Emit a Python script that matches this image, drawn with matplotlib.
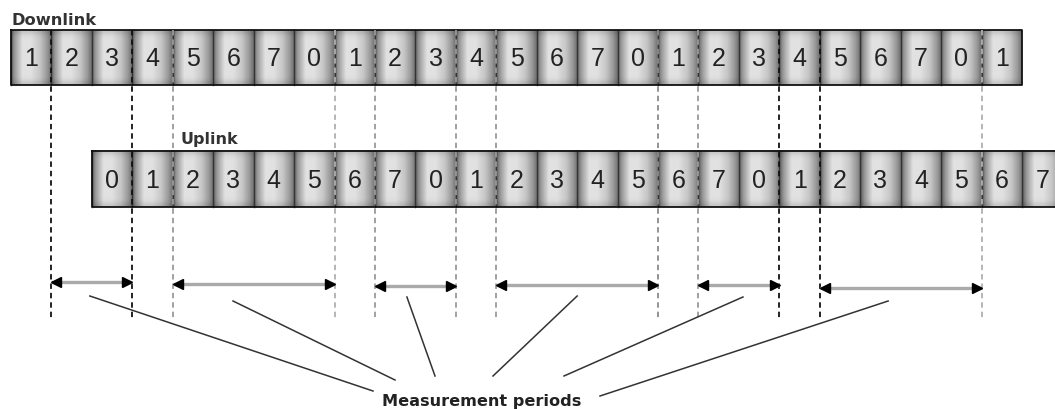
import numpy as np
import matplotlib.pyplot as plt

# slot numbers (frame timing)
downlink_slots = [1, 2, 3, 4, 5, 6, 7, 0, 1, 2, 3, 4, 5, 6, 7, 0, 1, 2, 3, 4, 5, 6, 7, 0, 1]
uplink_slots = [0, 1, 2, 3, 4, 5, 6, 7, 0, 1, 2, 3, 4, 5, 6, 7, 0, 1, 2, 3, 4, 5, 6, 7]
uplink_offset = 2  # uplink starts 2 slots after downlink

# measurement periods, as (start, end) slot boundaries on the downlink
periods = [(1, 3), (4, 8), (9, 11), (12, 16), (17, 19), (20, 24)]
# where each pointer line leaves the period arrow (slot units)
pointer_from = [1.95, 5.49, 9.79, 14.0, 18.1, 21.69]

W = 40.44   # px per slot
X0 = 11     # px of downlink start

# styles
dash_col = ['#111111', '#111111', '#9a9a9a', '#b0b0b0', '#9a9a9a', '#9a9a9a',
            '#9a9a9a', '#8a8a8a', '#9a9a9a', '#111111', '#111111', '#b0b0b0']
arrow_y = [283, 285, 287, 286, 286, 289]
pointer_y0 = [297, 302, 298, 297, 298, 302]
pointer_end = [(373, 392), (395, 381), (435, 377), (493, 377), (564, 377), (600, 397)]

fig = plt.figure(figsize=(10.55, 4.10), dpi=100)
ax = fig.add_axes([0, 0, 1, 1])
ax.set_xlim(-X0 / W, (1055 - X0) / W)
ax.set_ylim(410, 0)
ax.axis('off')

# cylinder-like shading of one slot
xs = np.linspace(0, 1, 40)
prof = np.interp(xs, [0, 0.08, 0.28, 0.5, 0.72, 0.9, 1.0],
                 [0.42, 0.6, 0.88, 0.88, 0.78, 0.6, 0.45])
ys = np.linspace(0, 1, 30)
vert = 1 - 0.12 * np.exp(-((ys - 0) / 0.08) ** 2) - 0.12 * np.exp(-((ys - 1) / 0.08) ** 2)


def draw_row(slots, start, top, bot):
    n = len(slots)
    img = np.outer(vert, np.tile(prof, n))
    ax.imshow(img, cmap='gray', vmin=0, vmax=1, aspect='auto',
              extent=(start, start + n, bot, top), interpolation='bilinear', zorder=1)
    for i, s in enumerate(slots):
        ax.plot([start + i, start + i], [top, bot], color='#333333', lw=1.0, zorder=2)
        ax.text(start + i + 0.5, (top + bot) / 2 + 1, str(s), ha='center', va='center',
                fontsize=18, family='Liberation Sans', color='#222222', zorder=3)
    ax.plot([start, start + n, start + n, start, start],
            [top, top, bot, bot, top], color='#111111', lw=1.3, zorder=2)


draw_row(downlink_slots, 0, 31, 86)
draw_row(uplink_slots, uplink_offset, 152, 208)

ax.text(0.02, 25, 'Downlink', fontsize=11.7, fontweight='bold', color='#333333',
        family='DejaVu Sans', ha='left', va='baseline')
ax.text((180 - X0) / W, 144, 'Uplink', fontsize=11.5, fontweight='bold', color='#333333',
        family='DejaVu Sans', ha='left', va='baseline')

# dashed boundary lines
bounds = [b for p in periods for b in p]
for b, c in zip(bounds, dash_col):
    ax.plot([b, b], [31, 321], color=c, lw=1.3, dashes=(3, 2.2), zorder=4)

# period arrows
for (a, b), y in zip(periods, arrow_y):
    ax.plot([a, b], [y, y], color='#aaaaaa', lw=2.4, zorder=5, solid_capstyle='butt')
    ax.plot([a + 0.12], [y], marker='<', color='black', ms=7, zorder=6)
    ax.plot([b - 0.12], [y], marker='>', color='black', ms=7, zorder=6)

# pointer lines to the label
for xf, y0, (xe, ye) in zip(pointer_from, pointer_y0, pointer_end):
    ax.plot([xf, (xe - X0) / W], [y0, ye], color='#333333', lw=1.1, zorder=5)

ax.text((382 - X0) / W, 406, 'Measurement periods', fontsize=11.6, fontweight='bold',
        color='#222222', family='DejaVu Sans', ha='left', va='baseline')

plt.savefig('out.png', dpi=100)
